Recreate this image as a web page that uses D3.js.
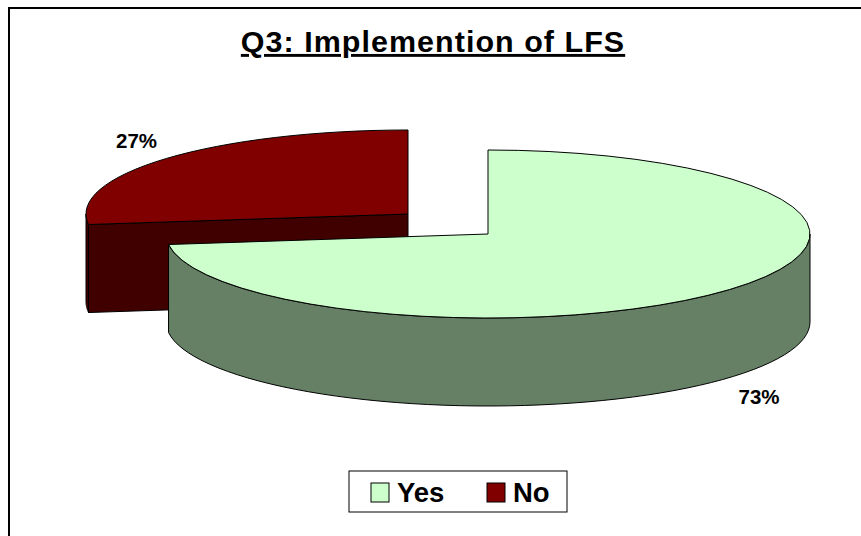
<!DOCTYPE html>
<html>
<head>
<meta charset="utf-8">
<script src="https://cdn.jsdelivr.net/npm/d3@7"></script>
<style>
  html, body { margin: 0; padding: 0; background: #fff; overflow: hidden; }
  text { font-family: "Liberation Sans", Arial, sans-serif; font-weight: bold; fill: #000; }
</style>
</head>
<body>
<svg id="chart" width="861" height="536"></svg>
<script>
const categories = ["Yes", "No"];
const values = [73, 27];
const topColors = ["#ccffcc", "#800000"];
const sideColors = ["#668066", "#400000"];

const width = 861, height = 536;
const rx = 322, ry = 84, depth = 88;
// the No slice is pulled away from the pie, so each slice has its own centre
const centers = [{ x: 488, y: 234 }, { x: 408, y: 214 }];
const labelPos = [{ x: 759, y: 404 }, { x: 136.5, y: 148 }];

const svg = d3.select("#chart");

// frame runs off the right and bottom of the picture
svg.append("rect")
  .attr("x", 9).attr("y", 8)
  .attr("width", width).attr("height", height)
  .attr("fill", "#fff")
  .attr("stroke", "#000")
  .attr("stroke-width", 2);

const pie = d3.pie().sort(null).value((d) => d);
const slices = pie(values);

const arc = d3.arc().innerRadius(0).outerRadius(rx);
const line = d3.line();

// angle is clockwise from the top, same as d3.pie
const rim = (c, a, drop) => [
  c.x + rx * Math.sin(a),
  c.y - ry * Math.cos(a) + drop,
];

const drawWall = (c, a0, a1, color) => {
  if (a1 <= a0) return;
  const angles = d3.range(0, 61).map((i) => a0 + ((a1 - a0) * i) / 60);
  const pts = angles
    .map((a) => rim(c, a, 0))
    .concat(angles.slice().reverse().map((a) => rim(c, a, depth)));
  svg.append("path")
    .attr("d", line(pts) + "Z")
    .attr("fill", color)
    .attr("stroke", "#000")
    .attr("stroke-width", 1);
};

const drawSlice = (i) => {
  const s = slices[i], c = centers[i];
  // only the front half of the rim can be seen
  drawWall(c, Math.max(s.startAngle, Math.PI / 2), Math.min(s.endAngle, 1.5 * Math.PI), sideColors[i]);

  // cut face towards the viewer, only when the slice starts on the far left
  if (s.startAngle > Math.PI) {
    const p = rim(c, s.startAngle, 0);
    const q = rim(c, s.startAngle, depth);
    svg.append("path")
      .attr("d", line([p, [c.x, c.y], [c.x, c.y + depth], q]) + "Z")
      .attr("fill", sideColors[i])
      .attr("stroke", "#000")
      .attr("stroke-width", 1);
  }

  svg.append("path")
    .attr("d", arc(s))
    .attr("transform", `translate(${c.x},${c.y}) scale(1,${ry / rx})`)
    .attr("fill", topColors[i])
    .attr("stroke", "#000")
    .attr("stroke-width", 1)
    .attr("vector-effect", "non-scaling-stroke");
};

drawSlice(1);
drawSlice(0);

// data labels
values.forEach((v, i) => {
  svg.append("text")
    .attr("x", labelPos[i].x)
    .attr("y", labelPos[i].y)
    .attr("text-anchor", "middle")
    .attr("font-size", 20.5)
    .text(v + "%");
});

// title, the original glyphs are a bit wider than Liberation's
svg.append("text")
  .attr("transform", "translate(433,52) scale(1.05,1)")
  .attr("text-anchor", "middle")
  .attr("font-size", 29)
  .style("letter-spacing", "1px")
  .style("text-decoration", "underline")
  .style("text-decoration-thickness", "3px")
  .text("Q3: Implemention of LFS");

// legend
svg.append("rect")
  .attr("x", 349).attr("y", 471)
  .attr("width", 218).attr("height", 41)
  .attr("fill", "#fff")
  .attr("stroke", "#000")
  .attr("stroke-width", 1);

const legendX = d3.scaleOrdinal().domain(categories).range([371, 487]);

categories.forEach((name, i) => {
  svg.append("rect")
    .attr("x", legendX(name)).attr("y", 483)
    .attr("width", 18).attr("height", 19)
    .attr("fill", topColors[i])
    .attr("stroke", "#000")
    .attr("stroke-width", 1);
  svg.append("text")
    .attr("x", legendX(name) + 26)
    .attr("y", 502)
    .attr("font-size", 27.5)
    .text(name);
});
</script>
</body>
</html>
